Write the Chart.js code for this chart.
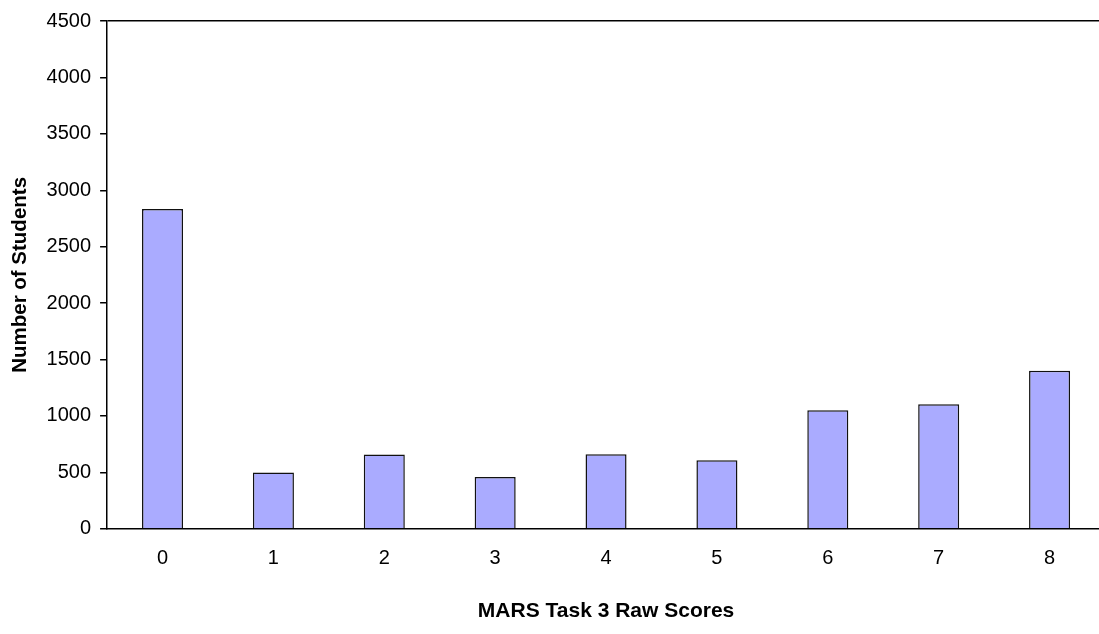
<!DOCTYPE html>
<html>
<head>
<meta charset="utf-8">
<script src="https://cdn.jsdelivr.net/npm/chart.js@4/dist/chart.umd.min.js"></script>
<style>
  html, body { margin: 0; padding: 0; background: white; overflow: hidden; }
  #wrap { width: 1105px; height: 634px; }
</style>
</head>
<body>
<div id="wrap"><canvas id="main-chart"></canvas></div>
<script>
var scoreLabels = ["0", "1", "2", "3", "4", "5", "6", "7", "8"];
var studentCounts = [2835, 500, 658, 458, 660, 607, 1050, 1103, 1400];
var yTicks = [0, 500, 1000, 1500, 2000, 2500, 3000, 3500, 4000, 4500];

var fontFamily = "'Liberation Sans', Arial, sans-serif";

var ctx = document.getElementById("main-chart");
var barChart = new Chart(ctx, {
  type: "bar",
  data: {
    labels: scoreLabels,
    datasets: [
      {
        label: "Number of Students",
        data: studentCounts,
        backgroundColor: "#aaabff",
        borderColor: "#111111",
        borderWidth: 1.5,
        categoryPercentage: 1,
        barPercentage: 0.37,
      },
    ],
  },
  options: {
    responsive: true,
    maintainAspectRatio: false,
    animation: false,
    layout: {
      padding: { top: 8, left: 8, right: 0, bottom: 10 },
    },
    plugins: {
      legend: { display: false },
      tooltip: { enabled: false },
    },
    scales: {
      x: {
        grid: { display: false, drawTicks: false },
        border: { color: "#000", width: 1.5 },
        ticks: {
          color: "#000",
          padding: 18,
          font: { family: fontFamily, size: 20 },
        },
        title: {
          display: true,
          text: "MARS Task 3 Raw Scores",
          color: "#000",
          font: { family: fontFamily, size: 21, weight: "bold" },
          padding: { top: 10, bottom: 0 },
        },
      },
      y: {
        min: 0,
        max: 4500,
        afterBuildTicks: function (axis) {
          axis.ticks = yTicks.map(function (v) { return { value: v }; });
        },
        grid: {
          drawOnChartArea: true,
          color: function (c) {
            return c.tick && c.tick.value === 4500 ? "#000" : "rgba(0,0,0,0)";
          },
          lineWidth: 1.5,
          tickColor: "#000",
          tickLength: 7,
        },
        border: { color: "#000", width: 1.5 },
        ticks: {
          color: "#000",
          padding: 9,
          font: { family: fontFamily, size: 20 },
          callback: function (value) {
            return String(value);
          },
        },
        title: {
          display: true,
          text: "Number of Students",
          color: "#000",
          font: { family: fontFamily, size: 20.5, weight: "bold" },
          padding: { top: 0, bottom: 5 },
        },
      },
    },
  },
});
</script>
</body>
</html>
